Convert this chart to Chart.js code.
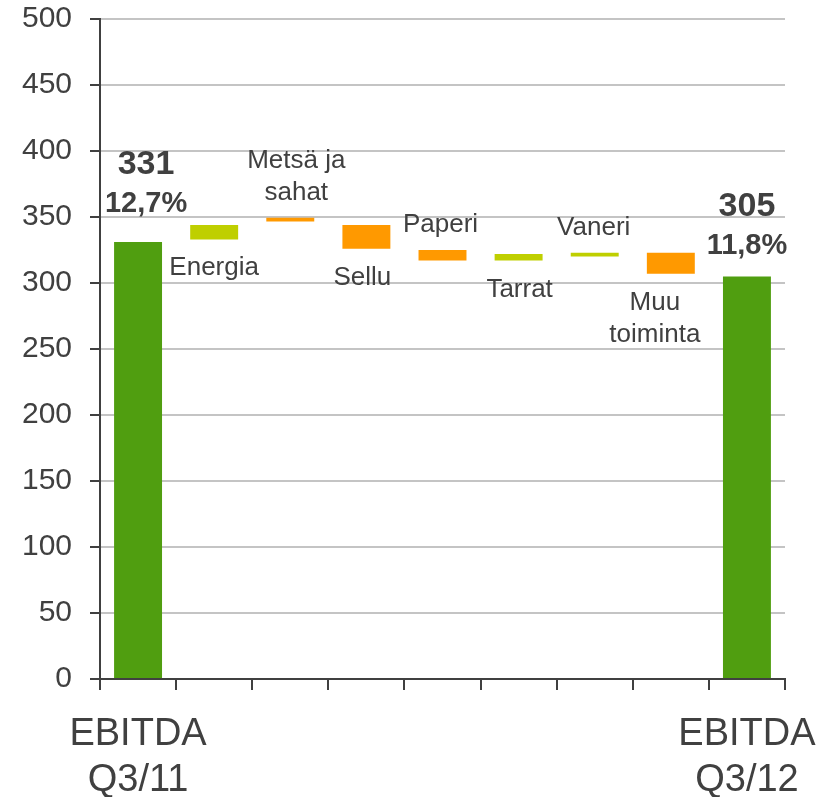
<!DOCTYPE html>
<html>
<head>
<meta charset="utf-8">
<script src="https://cdn.jsdelivr.net/npm/chart.js@4/dist/chart.umd.min.js"></script>
<style>
  html, body { margin: 0; padding: 0; background: #fff; }
  #wrap { width: 830px; height: 797px; }
</style>
</head>
<body>
<div id="wrap"><canvas id="ebitdaChart" width="830" height="797"></canvas></div>
<script>
// Data
const categories = ['EBITDA Q3/11', 'Energia', 'Metsä ja sahat', 'Sellu', 'Paperi', 'Tarrat', 'Vaneri', 'Muu toiminta', 'EBITDA Q3/12'];
const barStart = [0, 333, 346.5, 326, 317, 317, 320, 307, 0];
const barEnd = [331, 344, 349.5, 344, 325, 322, 323, 323, 305];
const xTickLabels = [['EBITDA', 'Q3/11'], '', '', '', '', '', '', '', ['EBITDA', 'Q3/12']];
const categoryText = [[], ['Energia'], ['Metsä ja', 'sahat'], ['Sellu'], ['Paperi'], ['Tarrat'], ['Vaneri'], ['Muu', 'toiminta'], []];
const totalValues = ['331', '', '', '', '', '', '', '', '305'];
const totalMargins = ['12,7%', '', '', '', '', '', '', '', '11,8%'];
const yTicks = [0, 50, 100, 150, 200, 250, 300, 350, 400, 450, 500];

// Ulkoasu
const GREEN = '#509E10', LIME = '#BFCF00', ORANGE = '#FF9900';
const barColors = [GREEN, LIME, ORANGE, ORANGE, ORANGE, LIME, LIME, ORANGE, GREEN];
const labelSide = ['', 'below', 'above', 'below', 'above', 'below', 'above', 'below', ''];
const labelDx = [0, 0, 6, -4, -2, 1, -1, -16, 0];
const totalDx = [8, 0, 0, 0, 0, 0, 0, 0, 0];
const totalDy = [-4, 0, 0, 0, 0, 0, 0, 0, 4];
const FONT = '"Liberation Sans", Arial, sans-serif';
const TEXT = '#404040';

// Tekstit kaavion sisällä
const labelPlugin = {
    id: 'waterfallLabels',
    afterDatasetsDraw(chart) {
        const ctx = chart.ctx;
        const x = chart.scales.x, y = chart.scales.y;
        ctx.save();
        ctx.fillStyle = TEXT;
        ctx.textAlign = 'center';
        ctx.textBaseline = 'alphabetic';
        categories.forEach((c, i) => {
            const cx = x.getPixelForValue(i);
            const top = y.getPixelForValue(Math.max(barStart[i], barEnd[i]));
            const bottom = y.getPixelForValue(Math.min(barStart[i], barEnd[i]));
            const lines = categoryText[i];
            ctx.font = '26px ' + FONT;
            if (labelSide[i] === 'above') {
                lines.forEach((t, k) => {
                    ctx.fillText(t, cx + labelDx[i], top - 18 - (lines.length - 1 - k) * 32);
                });
            } else if (labelSide[i] === 'below') {
                lines.forEach((t, k) => {
                    ctx.fillText(t, cx + labelDx[i], bottom + 36 + k * 32);
                });
            }
            if (totalValues[i]) {
                ctx.font = 'bold 29px ' + FONT;
                ctx.fillText(totalMargins[i], cx + totalDx[i], top - 26 + totalDy[i]);
                ctx.font = 'bold 34px ' + FONT;
                ctx.fillText(totalValues[i], cx + totalDx[i], top - 64 + totalDy[i]);
            }
        });
        ctx.restore();
    }
};

new Chart(document.getElementById('ebitdaChart'), {
    type: 'bar',
    data: {
        labels: xTickLabels,
        datasets: [{
            data: barStart.map((s, i) => [s, barEnd[i]]),
            backgroundColor: barColors,
            borderWidth: 0,
            barPercentage: 0.63,
            categoryPercentage: 1
        }]
    },
    options: {
        responsive: false,
        animation: false,
        layout: { padding: { top: 19, right: 45, left: 0, bottom: 0 } },
        plugins: {
            legend: { display: false },
            tooltip: { enabled: false }
        },
        scales: {
            x: {
                offset: true,
                grid: {
                    offset: true,
                    drawOnChartArea: false,
                    color: TEXT,
                    lineWidth: 2,
                    tickLength: 11
                },
                border: { color: TEXT, width: 2 },
                ticks: {
                    color: TEXT,
                    font: { family: FONT, size: 38, lineHeight: 1.2 },
                    padding: 22,
                    maxRotation: 0,
                    autoSkip: false
                },
                afterFit(scale) {
                    scale.height = 118;
                    scale.paddingLeft = 0;
                    scale.paddingRight = 0;
                }
            },
            y: {
                min: 0,
                max: 500,
                afterBuildTicks(scale) { scale.ticks = yTicks.map(v => ({ value: v })); },
                grid: {
                    color: '#C4C4C4',
                    lineWidth: 2,
                    tickColor: TEXT,
                    tickLength: 10
                },
                border: { color: TEXT, width: 2 },
                ticks: {
                    color: TEXT,
                    font: { family: FONT, size: 30 },
                    padding: 18
                },
                afterFit(scale) {
                    scale.width = 100;
                    scale.paddingTop = 0;
                    scale.paddingBottom = 0;
                }
            }
        }
    },
    plugins: [labelPlugin]
});
</script>
</body>
</html>
